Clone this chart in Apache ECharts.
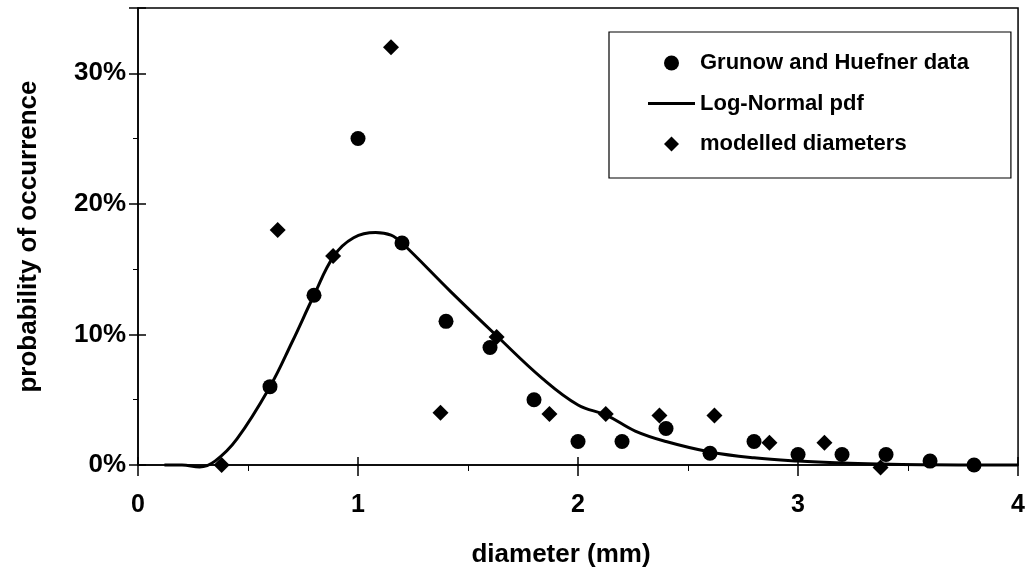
<!DOCTYPE html>
<html>
<head>
<meta charset="utf-8">
<script src="https://cdn.jsdelivr.net/npm/echarts@6/dist/echarts.min.js"></script>
<style>
html,body{margin:0;padding:0;background:#fff;}
#chart{width:1028px;height:573px;}
</style>
</head>
<body>
<div id="chart"></div>
<script>
// Grunow and Huefner data (diameter mm, probability %)
var dataX = [0.6, 0.8, 1.0, 1.2, 1.4, 1.6, 1.8, 2.0, 2.2, 2.4, 2.6, 2.8, 3.0, 3.2, 3.4, 3.6, 3.8];
var dataY = [6.0, 13.0, 25.0, 17.0, 11.0, 9.0, 5.0, 1.8, 1.8, 2.8, 0.9, 1.8, 0.8, 0.8, 0.8, 0.3, 0.0];

// modelled diameters
var modelX = [0.38, 0.635, 0.887, 1.15, 1.375, 1.63, 1.87, 2.126, 2.37, 2.62, 2.87, 3.12, 3.375];
var modelY = [0.0, 18.0, 16.0, 32.0, 4.0, 9.8, 3.9, 3.9, 3.8, 3.8, 1.7, 1.7, -0.2];

// Log-Normal pdf curve
var pdfX = [0.12, 0.20, 0.28, 0.35, 0.45, 0.60, 0.70, 0.80, 0.89, 0.98, 1.08, 1.15, 1.20, 1.42, 1.63, 1.84, 2.00, 2.13, 2.26, 2.40, 2.60, 2.80, 3.00, 3.20, 3.40, 3.60, 4.00];
var pdfY = [0.0, 0.0, -0.15, 0.3, 2.0, 6.0, 9.4, 13.0, 16.0, 17.4, 17.8, 17.6, 17.0, 13.3, 9.9, 6.6, 4.6, 3.8, 2.6, 1.8, 1.0, 0.55, 0.3, 0.15, 0.07, 0.02, 0.0];

var xTicks = [0, 1, 2, 3, 4];
var yTicks = [0, 10, 20, 30];

function zip(a, b) { return a.map(function (v, i) { return [v, b[i]]; }); }

var FONT = '"Liberation Sans", Arial, sans-serif';
var chart = echarts.init(document.getElementById('chart'), null, {renderer: 'canvas'});

var baseX = {
  type: 'value', min: xTicks[0], max: xTicks[xTicks.length - 1], interval: 1,
  position: 'bottom', offset: 0, splitLine: {show: false}
};
var baseY = {
  type: 'value', min: 0, max: 35, interval: 10,
  position: 'left', offset: 0, splitLine: {show: false}
};

chart.setOption({
  animation: false,
  backgroundColor: '#fff',
  textStyle: {fontFamily: FONT},
  grid: {
    left: 138, right: 2, top: 8, bottom: 105,
    show: true, borderColor: '#000', borderWidth: 1.5, backgroundColor: 'transparent'
  },
  legend: {
    left: 609, top: 32,
    orient: 'vertical',
    data: [
      {name: 'Grunow and Huefner data', icon: 'circle'},
      {name: 'Log-Normal pdf', icon: 'path://M0,0 L47,0 L47,3 L0,3 Z'},
      {name: 'modelled diameters', icon: 'path://M1,0 L2,1 L1,2 L0,1 Z'}
    ],
    symbolKeepAspect: true,
    itemWidth: 47, itemHeight: 15, itemGap: 18.5,
    padding: [20, 42, 23, 39],
    backgroundColor: '#fff', borderColor: '#000', borderWidth: 1.2,
    itemStyle: {color: '#000', opacity: 1},
    textStyle: {fontFamily: FONT, fontSize: 22, fontWeight: 'bold', color: '#000'},
    selectedMode: false
  },
  xAxis: [
    Object.assign({}, baseX, {
      name: 'diameter (mm)', nameLocation: 'middle', nameGap: 77,
      nameTextStyle: {fontFamily: FONT, fontSize: 26, fontWeight: 'bold', color: '#000', padding: [0, 34, 0, 0]},
      axisLine: {show: true, lineStyle: {color: '#000', width: 1.5}},
      axisTick: {show: true, inside: false, length: 11, lineStyle: {color: '#000', width: 1.5}},
      minorTick: {show: true, splitNumber: 2, length: 6, lineStyle: {color: '#000', width: 1}},
      axisLabel: {margin: 28, fontFamily: FONT, fontSize: 25, fontWeight: 'bold', color: '#000',
        formatter: function (v) { return xTicks.indexOf(v) >= 0 ? String(v) : ''; }}
    }),
    Object.assign({}, baseX, {
      axisLine: {show: false},
      axisTick: {show: true, inside: true, length: 8, lineStyle: {color: '#000', width: 1.5}},
      axisLabel: {show: false}
    })
  ],
  yAxis: [
    Object.assign({}, baseY, {
      name: 'probability of occurrence', nameLocation: 'middle', nameGap: 96,
      nameTextStyle: {fontFamily: FONT, fontSize: 26, fontWeight: 'bold', color: '#000'},
      axisLine: {show: true, lineStyle: {color: '#000', width: 1.5}},
      axisTick: {show: true, inside: false, length: 9, lineStyle: {color: '#000', width: 1.5}},
      minorTick: {show: true, splitNumber: 2, length: 5, lineStyle: {color: '#000', width: 1}},
      axisLabel: {margin: 12, fontFamily: FONT, fontSize: 26, fontWeight: 'bold', color: '#000',
        formatter: function (v) { return yTicks.indexOf(v) >= 0 ? v + '%' : ''; }}
    }),
    Object.assign({}, baseY, {
      axisLine: {show: false},
      axisTick: {show: true, inside: true, length: 8, lineStyle: {color: '#000', width: 1.5}},
      axisLabel: {show: false}
    })
  ],
  series: [
    {
      name: 'Grunow and Huefner data', type: 'scatter', xAxisIndex: 0, yAxisIndex: 0,
      symbol: 'circle', symbolSize: 15, itemStyle: {color: '#000', opacity: 1}, z: 4, clip: false,
      data: zip(dataX, dataY)
    },
    {
      name: 'Log-Normal pdf', type: 'line', xAxisIndex: 0, yAxisIndex: 0,
      symbol: 'none', showSymbol: false, smooth: 0.4, z: 3, clip: false,
      lineStyle: {color: '#000', width: 3}, itemStyle: {color: '#000'},
      data: zip(pdfX, pdfY)
    },
    {
      name: 'modelled diameters', type: 'scatter', xAxisIndex: 0, yAxisIndex: 0,
      symbol: 'diamond', symbolSize: 16, itemStyle: {color: '#000', opacity: 1}, z: 4, clip: false,
      data: zip(modelX, modelY)
    }
  ]
});
</script>
</body>
</html>
